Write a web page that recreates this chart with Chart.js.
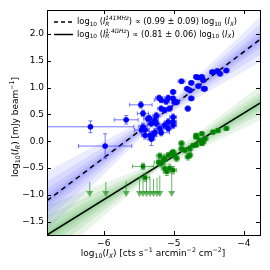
<!DOCTYPE html>
<html>
<head>
<meta charset="utf-8">
<script src="https://cdn.jsdelivr.net/npm/chart.js@4.4.1/dist/chart.umd.min.js"></script>
<style>
  body { margin: 0; background: #fff; }
  #c { display: block; }
</style>
</head>
<body>
<canvas id="c" width="270" height="270"></canvas>
<script>
// axis ranges and ticks
var xMin = -6.81, xMax = -3.77;
var yMin = -1.75, yMax = 2.45;
var xTicks = [-6, -5, -4];
var yTicks = [-1.5, -1.0, -0.5, 0.0, 0.5, 1.0, 1.5, 2.0];

// 141 MHz points (blue)
var blueX = [-6.19, -5.98, -5.68, -5.46, -5.47, -5.44, -5.35, -5.44, -5.21, -5.18, -5.11, -5.18, -5.13, -5.06,
  -5.01, -5.01, -4.89, -4.81, -4.68, -4.60, -4.58, -4.45, -4.38, -4.34, -4.25, -4.56, -4.77, -4.65, -4.75, -4.80,
  -5.01, -5.01, -5.01, -5.25, -5.20, -5.13, -5.08, -5.41, -5.34, -5.30, -5.18, -5.41, -5.32, -5.37, -5.25, -5.27,
  -5.32, -5.08, -5.27, -4.75, -4.65, -4.57, -4.99, -5.08, -4.96];
var blueY = [0.27, -0.09, 0.40, 0.21, 0.68, 0.52, 0.43, 0.27, 0.81, 0.77, 0.74, 0.61, 0.58, 0.61,
  0.92, 0.80, 1.12, 0.98, 1.20, 1.20, 1.14, 1.29, 1.31, 1.26, 1.32, 0.98, 0.95, 1.03, 0.80, 0.61,
  0.45, 0.36, 0.30, 0.33, 0.24, 0.30, 0.36, 0.21, 0.11, 0.11, 0.16, 0.11, 0.04, 0.42, 0.48, 0.39,
  0.33, 0.24, 0.17, 1.09, 1.19, 0.98, 0.73, 0.81, 0.73];
var blueXerr = [0.62, 0.38, 0.17, 0.1, 0.16, 0.08, 0.06, 0.06, 0.05, 0.1, 0.05, 0.05, 0.05, 0.04,
  0.04, 0.04, 0.05, 0.04, 0.04, 0.04, 0.04, 0.04, 0.04, 0.04, 0.04, 0.04, 0.04, 0.04, 0.04, 0.04,
  0.05, 0.05, 0.05, 0.05, 0.05, 0.05, 0.05, 0.06, 0.1, 0.05, 0.12, 0.05, 0.05, 0.06, 0.05, 0.05,
  0.05, 0.05, 0.05, 0.04, 0.04, 0.04, 0.04, 0.05, 0.04];
var blueYerr = [0.11, 0.23, 0.08, 0.07, 0.06, 0.06, 0.06, 0.07, 0.05, 0.05, 0.05, 0.05, 0.05, 0.05,
  0.04, 0.04, 0.04, 0.04, 0.04, 0.04, 0.04, 0.04, 0.04, 0.04, 0.04, 0.04, 0.04, 0.04, 0.04, 0.05,
  0.06, 0.06, 0.06, 0.06, 0.07, 0.06, 0.06, 0.07, 0.07, 0.07, 0.06, 0.07, 0.12, 0.06, 0.06, 0.06,
  0.06, 0.06, 0.07, 0.04, 0.04, 0.04, 0.05, 0.05, 0.05];

// 1.4 GHz points (green)
var greenX = [-5.44, -5.41, -5.22, -5.18, -5.20, -5.15, -5.13, -5.13, -5.10, -5.08, -5.06, -5.03, -5.01, -5.01,
  -4.99, -4.96, -4.89, -4.89, -4.84, -4.80, -4.77, -4.77, -4.72, -4.68, -4.68, -4.68, -4.63, -4.60, -4.60,
  -4.58, -4.55, -4.44, -4.37, -4.25];
var greenY = [-0.47, -0.68, -0.39, -0.42, -0.27, -0.35, -0.32, -0.51, -0.57, -0.26, -0.50, -0.23, -0.20, -0.54,
  -0.26, -0.32, -0.14, -0.04, -0.17, -0.29, -0.14, -0.26, -0.08, -0.07, 0.08, 0.11, 0.02, -0.04, 0.14,
  -0.01, 0.05, 0.17, 0.20, 0.24];
var greenXerr = [0.15, 0.06, 0.06, 0.05, 0.05, 0.05, 0.05, 0.05, 0.05, 0.05, 0.05, 0.04, 0.04, 0.05,
  0.04, 0.04, 0.04, 0.04, 0.04, 0.04, 0.04, 0.04, 0.04, 0.04, 0.04, 0.04, 0.04, 0.04, 0.04,
  0.04, 0.04, 0.04, 0.04, 0.04];
var greenYerr = [0.06, 0.07, 0.06, 0.06, 0.05, 0.06, 0.05, 0.07, 0.07, 0.05, 0.07, 0.05, 0.05, 0.07,
  0.05, 0.06, 0.05, 0.05, 0.05, 0.06, 0.05, 0.05, 0.04, 0.04, 0.04, 0.04, 0.04, 0.04, 0.04,
  0.04, 0.04, 0.04, 0.04, 0.04];

// 1.4 GHz upper limits (green arrows)
var limX = [-6.20, -5.97, -5.68, -5.49, -5.44, -5.39, -5.34, -5.29, -5.24, -5.20, -5.03];
var limTop = [-0.76, -0.76, -0.74, -0.66, -0.70, -0.68, -0.66, -0.70, -0.68, -0.64, -0.58];
var limTip = -1.04;

// fit lines and their sample fans (y at fanX, half widths of the fan layers)
var fanX = [-6.81, -5.2, -3.77];
var blueFit = [-1.11, 0.48, 1.90];
var greenFit = [-1.75, -0.44, 0.71];
var blueFanW = [[0.55, 0.07, 0.42], [0.36, 0.05, 0.28], [0.22, 0.035, 0.17], [0.12, 0.025, 0.1], [0.06, 0.015, 0.05]];
var greenFanW = [[0.55, 0.06, 0.32], [0.36, 0.04, 0.21], [0.22, 0.03, 0.13], [0.12, 0.02, 0.08], [0.06, 0.012, 0.04]];

function pts(xs, ys) {
  return xs.map(function (x, i) { return { x: x, y: ys[i] }; });
}

function fanSets(fit, widths, col) {
  var out = [];
  widths.forEach(function (w) {
    out.push({
      type: 'line', data: pts(fanX, fit.map(function (v, i) { return v + w[i]; })),
      borderWidth: 0, pointRadius: 0, fill: '+1', backgroundColor: col, order: 10
    });
    out.push({
      type: 'line', data: pts(fanX, fit.map(function (v, i) { return v - w[i]; })),
      borderWidth: 0, pointRadius: 0, fill: false, order: 10
    });
  });
  return out;
}

var FAM = '"DejaVu Sans", sans-serif';
var KIND = {
  n: { it: 0, sc: 1, dy: 0 }, i: { it: 1, sc: 1, dy: 0 },
  sb: { it: 0, sc: 0.7, dy: 0.28 }, sp: { it: 0, sc: 0.7, dy: -0.38 },
  isb: { it: 1, sc: 0.7, dy: 0.28 }, isp: { it: 1, sc: 0.7, dy: -0.38 }
};

function segFont(k, size) {
  var d = KIND[k];
  return (d.it ? 'italic ' : '') + (size * d.sc).toFixed(2) + 'px ' + FAM;
}

function segWidth(ctx, s, size) {
  if (Array.isArray(s[0])) {
    return Math.max.apply(null, s.map(function (q) { return segWidth(ctx, q, size); }));
  }
  ctx.font = segFont(s[1], size);
  return ctx.measureText(s[0]).width;
}

function drawSeg(ctx, s, x, y, size) {
  if (Array.isArray(s[0])) {
    s.forEach(function (q) { drawSeg(ctx, q, x, y, size); });
    return;
  }
  ctx.font = segFont(s[1], size);
  ctx.fillText(s[0], x, y + KIND[s[1]].dy * size);
}

function rich(ctx, segs, x, y, size, align) {
  var w = 0;
  segs.forEach(function (s) { w += segWidth(ctx, s, size); });
  var cx = align === 'center' ? x - w / 2 : x;
  ctx.textAlign = 'left';
  ctx.textBaseline = 'middle';
  ctx.fillStyle = '#000';
  segs.forEach(function (s) {
    drawSeg(ctx, s, cx, y, size);
    cx += segWidth(ctx, s, size);
  });
}

var legendRows = [
  { dash: [4, 3], segs: [['log', 'n'], ['10', 'sb'], [' (', 'n'], ['I', 'i'], [['R', 'isb'], ['141MHz', 'isp']],
    [') \u221d (0.99 \u00b1 0.09) log', 'n'], ['10', 'sb'], [' (', 'n'], ['I', 'i'], ['X', 'isb'], [')', 'n']] },
  { dash: [], segs: [['log', 'n'], ['10', 'sb'], [' (', 'n'], ['I', 'i'], [['R', 'isb'], ['1.4GHz', 'isp']],
    [') \u221d (0.81 \u00b1 0.06) log', 'n'], ['10', 'sb'], [' (', 'n'], ['I', 'i'], ['X', 'isb'], [')', 'n']] }
];
var xTitle = [['log', 'n'], ['10', 'sb'], ['(', 'n'], ['I', 'i'], ['X', 'isb'], [') [cts s', 'n'], ['\u22121', 'sp'],
  [' arcmin', 'n'], ['\u22122', 'sp'], [' cm', 'n'], ['\u22122', 'sp'], [']', 'n']];
var yTitle = [['log', 'n'], ['10', 'sb'], ['(', 'n'], ['I', 'i'], ['R', 'isb'], [') [mJy beam', 'n'], ['\u22121', 'sp'], [']', 'n']];

var errPlugin = {
  id: 'errbars',
  beforeDatasetDraw: function (chart, args) {
    var ds = chart.data.datasets[args.index];
    if (!ds.errX) return;
    var ctx = chart.ctx, xs = chart.scales.x, ys = chart.scales.y, a = chart.chartArea;
    ctx.save();
    ctx.beginPath();
    ctx.rect(a.left, a.top, a.right - a.left, a.bottom - a.top);
    ctx.clip();
    ctx.strokeStyle = ds.errColor;
    ctx.fillStyle = ds.errColor;
    ctx.lineWidth = 1;
    ds.data.forEach(function (p, i) {
      var px = xs.getPixelForValue(p.x), py = ys.getPixelForValue(p.y);
      var x0 = xs.getPixelForValue(p.x - ds.errX[i]), x1 = xs.getPixelForValue(p.x + ds.errX[i]);
      var y0 = ys.getPixelForValue(p.y - ds.errY[i]), y1 = ys.getPixelForValue(p.y + ds.errY[i]);
      ctx.beginPath();
      ctx.moveTo(x0, py); ctx.lineTo(x1, py);
      ctx.moveTo(px, y0); ctx.lineTo(px, y1);
      ctx.moveTo(x0, py - 2); ctx.lineTo(x0, py + 2);
      ctx.moveTo(x1, py - 2); ctx.lineTo(x1, py + 2);
      ctx.moveTo(px - 2, y0); ctx.lineTo(px + 2, y0);
      ctx.moveTo(px - 2, y1); ctx.lineTo(px + 2, y1);
      ctx.stroke();
    });
    if (ds.limits) {
      limX.forEach(function (x, i) {
        var px = xs.getPixelForValue(x);
        var top = ys.getPixelForValue(limTop[i]), tip = ys.getPixelForValue(limTip);
        ctx.beginPath();
        ctx.moveTo(px, top); ctx.lineTo(px, tip - 4);
        ctx.stroke();
        ctx.beginPath();
        ctx.moveTo(px - 3.5, tip - 6); ctx.lineTo(px + 3.5, tip - 6); ctx.lineTo(px, tip);
        ctx.closePath();
        ctx.fill();
      });
    }
    ctx.restore();
  },
  afterDraw: function (chart) {
    var ctx = chart.ctx, a = chart.chartArea, xs = chart.scales.x, ys = chart.scales.y;
    ctx.save();
    ctx.strokeStyle = '#000';
    ctx.lineWidth = 1;
    ctx.strokeRect(Math.round(a.left) + 0.5, Math.round(a.top) + 0.5,
      Math.round(a.right - a.left), Math.round(a.bottom - a.top));
    ctx.beginPath();
    xTicks.forEach(function (v) {
      var px = Math.round(xs.getPixelForValue(v)) + 0.5;
      ctx.moveTo(px, a.bottom); ctx.lineTo(px, a.bottom - 4);
      ctx.moveTo(px, a.top); ctx.lineTo(px, a.top + 4);
    });
    yTicks.forEach(function (v) {
      var py = Math.round(ys.getPixelForValue(v)) + 0.5;
      ctx.moveTo(a.left, py); ctx.lineTo(a.left + 4, py);
      ctx.moveTo(a.right, py); ctx.lineTo(a.right - 4, py);
    });
    ctx.stroke();

    // legend
    legendRows.forEach(function (r, i) {
      var y = 22 + i * 12.5;
      ctx.setLineDash(r.dash);
      ctx.lineWidth = 1.5;
      ctx.beginPath();
      ctx.moveTo(54, y); ctx.lineTo(73, y);
      ctx.stroke();
      ctx.setLineDash([]);
      rich(ctx, r.segs, 77, y, 8.3);
    });

    // axis titles
    rich(ctx, xTitle, 153, 254, 9, 'center');
    ctx.translate(16, 127);
    ctx.rotate(-Math.PI / 2);
    rich(ctx, yTitle, 0, 0, 9, 'center');
    ctx.restore();
  }
};

function fmtX(v) { return String(v).replace('-', '\u2212'); }
function fmtY(v) { return Number(v).toFixed(1).replace('-', '\u2212'); }

var datasets = []
  .concat(fanSets(blueFit, blueFanW, 'rgba(60,60,255,0.10)'))
  .concat(fanSets(greenFit, greenFanW, 'rgba(20,150,20,0.10)'))
  .concat([
    { type: 'line', data: pts(fanX, blueFit), borderColor: '#000', borderWidth: 1.5,
      borderDash: [5, 4], pointRadius: 0, fill: false, order: 5 },
    { type: 'line', data: pts(fanX, greenFit), borderColor: '#000', borderWidth: 1.5,
      pointRadius: 0, fill: false, order: 5 },
    { type: 'scatter', data: pts(blueX, blueY), errX: blueXerr, errY: blueYerr,
      errColor: 'rgba(60,60,255,0.7)', pointStyle: 'circle', pointRadius: 2.6,
      backgroundColor: '#0000ff', borderColor: '#0000ff', borderWidth: 0.5, order: 1 },
    { type: 'scatter', data: pts(greenX, greenY), errX: greenXerr, errY: greenYerr, limits: true,
      errColor: 'rgba(40,150,40,0.7)', pointStyle: 'rect', pointRadius: 2.8,
      backgroundColor: '#008000', borderColor: '#008000', borderWidth: 0.5, order: 1 }
  ]);

new Chart(document.getElementById('c'), {
  type: 'scatter',
  data: { datasets: datasets },
  options: {
    responsive: false,
    animation: false,
    devicePixelRatio: 1,
    layout: { padding: { top: 10, right: 10, left: 0, bottom: 0 } },
    plugins: { legend: { display: false }, tooltip: { enabled: false } },
    scales: {
      x: {
        type: 'linear', min: xMin, max: xMax,
        grid: { display: false, drawTicks: false }, border: { display: false },
        afterBuildTicks: function (s) { s.ticks = xTicks.map(function (v) { return { value: v }; }); },
        afterFit: function (s) { s.height = 35; },
        ticks: { color: '#000', font: { family: FAM, size: 9 }, padding: 3, maxRotation: 0, callback: fmtX }
      },
      y: {
        type: 'linear', min: yMin, max: yMax,
        grid: { display: false, drawTicks: false }, border: { display: false },
        afterBuildTicks: function (s) { s.ticks = yTicks.map(function (v) { return { value: v }; }); },
        afterFit: function (s) { s.width = 47; },
        ticks: { color: '#000', font: { family: FAM, size: 9 }, padding: 3, callback: fmtY }
      }
    }
  },
  plugins: [errPlugin]
});
</script>
</body>
</html>
